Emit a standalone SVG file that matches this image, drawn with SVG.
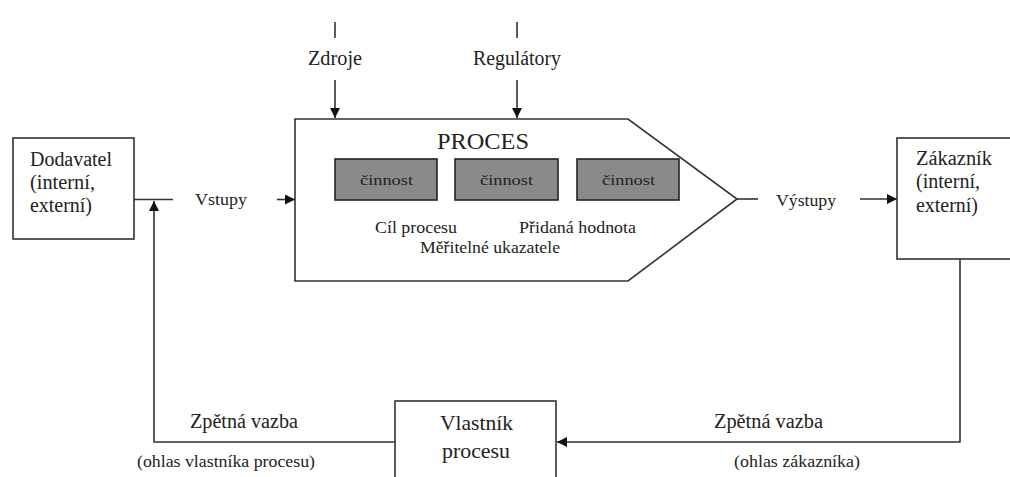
<svg xmlns="http://www.w3.org/2000/svg" width="1010" height="477" viewBox="0 0 1010 477">
<defs>
<marker id="ah" viewBox="0 0 10 10" refX="10" refY="5" markerWidth="10" markerHeight="10" markerUnits="userSpaceOnUse" orient="auto">
<path d="M0,0 L10,5 L0,10 Z" fill="#111"/>
</marker>
<style>
.box{fill:#fff;stroke:#333;stroke-width:1.6}
.act{fill:#8a8a8a;stroke:#222;stroke-width:1.6}
.ln{fill:none;stroke:#333;stroke-width:1.6}
text{font-family:'Liberation Serif','Times New Roman','DejaVu Serif',serif;fill:#222}
</style>
</defs>
<rect width="1010" height="477" fill="#fff"/>
<g id="connectors">
<line class="ln" x1="335" y1="22" x2="335" y2="38"/>
<line class="ln" x1="335" y1="80" x2="335" y2="118" marker-end="url(#ah)"/>
<line class="ln" x1="517" y1="22" x2="517" y2="38"/>
<line class="ln" x1="517" y1="80" x2="517" y2="118" marker-end="url(#ah)"/>
<line class="ln" x1="134" y1="199.5" x2="173" y2="199.5"/>
<line class="ln" x1="277" y1="199.5" x2="295" y2="199.5" marker-end="url(#ah)"/>
<line class="ln" x1="737" y1="199" x2="758" y2="199"/>
<line class="ln" x1="860" y1="199" x2="897" y2="199" marker-end="url(#ah)"/>
<polyline class="ln" points="960,259 960,442 557,442" marker-end="url(#ah)"/>
<polyline class="ln" points="395,442 154,442 154,201" marker-end="url(#ah)"/>
<text x="308" y="65" font-size="20" textLength="54" lengthAdjust="spacingAndGlyphs">Zdroje</text>
<text x="473" y="65" font-size="20" textLength="88" lengthAdjust="spacingAndGlyphs">Regulátory</text>
<text x="195" y="205" font-size="16" textLength="52" lengthAdjust="spacingAndGlyphs">Vstupy</text>
<text x="776" y="206" font-size="16" textLength="60" lengthAdjust="spacingAndGlyphs">Výstupy</text>
<text x="190" y="428" font-size="20" textLength="108" lengthAdjust="spacingAndGlyphs">Zpětná vazba</text>
<text x="137" y="467" font-size="16" textLength="178" lengthAdjust="spacingAndGlyphs">(ohlas vlastníka procesu)</text>
<text x="714" y="428" font-size="20" textLength="109" lengthAdjust="spacingAndGlyphs">Zpětná vazba</text>
<text x="734" y="467" font-size="16" textLength="126" lengthAdjust="spacingAndGlyphs">(ohlas zákazníka)</text>
</g>
<g id="dodavatel">
<rect class="box" x="13" y="138" width="121" height="101"/>
<text x="30" y="166" font-size="20" textLength="82" lengthAdjust="spacingAndGlyphs">Dodavatel</text>
<text x="30" y="189" font-size="20" textLength="65" lengthAdjust="spacingAndGlyphs">(interní,</text>
<text x="30" y="212" font-size="20" textLength="62" lengthAdjust="spacingAndGlyphs">externí)</text>
</g>
<g id="proces">
<path class="box" d="M295,119 L628,119 L737,199 L628,281 L295,281 Z"/>
<text x="437" y="149" font-size="24" textLength="92" lengthAdjust="spacingAndGlyphs">PROCES</text>
<rect class="act" x="335" y="159" width="102" height="41"/>
<text x="360" y="185" font-size="15" textLength="53" lengthAdjust="spacingAndGlyphs">činnost</text>
<rect class="act" x="455" y="159" width="103" height="41"/>
<text x="480" y="185" font-size="15" textLength="53" lengthAdjust="spacingAndGlyphs">činnost</text>
<rect class="act" x="577" y="159" width="102" height="41"/>
<text x="602" y="185" font-size="15" textLength="53" lengthAdjust="spacingAndGlyphs">činnost</text>
<text x="375" y="233" font-size="17" textLength="82" lengthAdjust="spacingAndGlyphs">Cíl procesu</text>
<text x="519" y="233" font-size="17" textLength="117" lengthAdjust="spacingAndGlyphs">Přidaná hodnota</text>
<text x="420" y="253" font-size="17" textLength="140" lengthAdjust="spacingAndGlyphs">Měřitelné ukazatele</text>
</g>
<g id="zakaznik">
<rect class="box" x="897" y="138" width="120" height="121"/>
<text x="916" y="165" font-size="20" textLength="76" lengthAdjust="spacingAndGlyphs">Zákazník</text>
<text x="916" y="188" font-size="20" textLength="64" lengthAdjust="spacingAndGlyphs">(interní,</text>
<text x="916" y="212" font-size="20" textLength="62" lengthAdjust="spacingAndGlyphs">externí)</text>
</g>
<g id="vlastnik">
<rect class="box" x="395" y="401" width="161" height="90"/>
<text x="440" y="430" font-size="21" textLength="73" lengthAdjust="spacingAndGlyphs">Vlastník</text>
<text x="442" y="458" font-size="21" textLength="68" lengthAdjust="spacingAndGlyphs">procesu</text>
</g>
</svg>
